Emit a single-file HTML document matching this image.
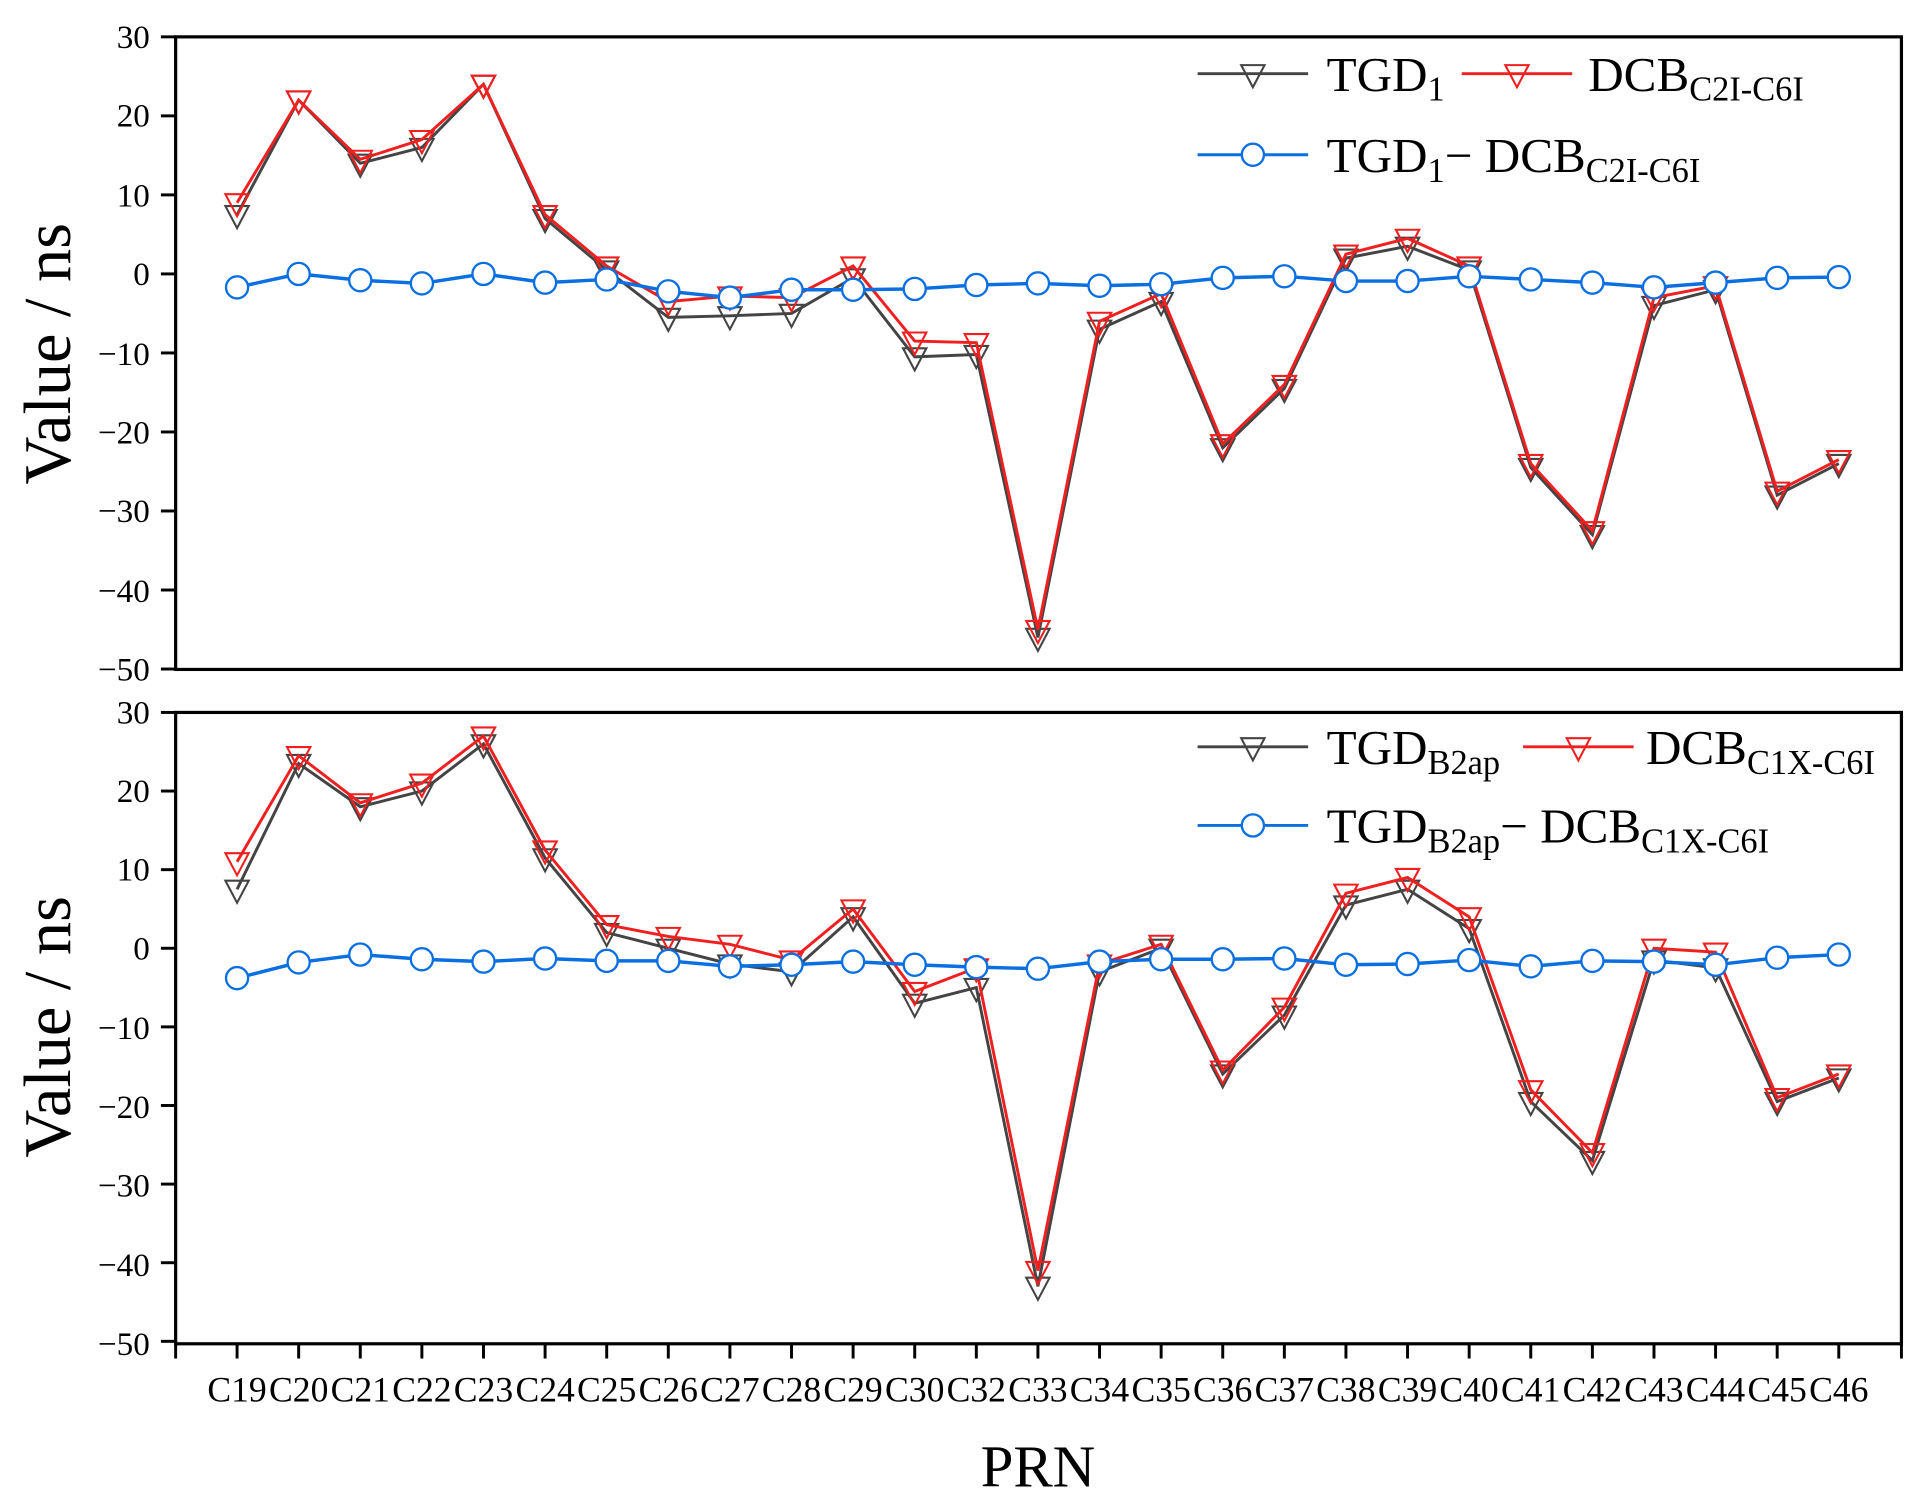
<!DOCTYPE html>
<html><head><meta charset="utf-8"><style>
html,body{margin:0;padding:0;background:#fff}
svg{display:block}
text{font-family:"Liberation Serif",serif;fill:#000}
</style></head><body>
<svg id="s" width="1926" height="1509" viewBox="0 0 1568 1228.5" xmlns="http://www.w3.org/2000/svg">
<rect width="1568" height="1228.5" fill="#fff"/>
<g id="plots"></g>
<rect x="143" y="30" width="1405" height="515" fill="none" stroke="#000" stroke-width="2.6"/>
<rect x="143" y="580" width="1405" height="514" fill="none" stroke="#000" stroke-width="2.6"/>
<g id="ticks" stroke="#000" stroke-width="2.4"></g>
<g font-size="27" text-anchor="end">
<text x="122" y="39">30</text><text x="122" y="103">20</text><text x="122" y="168">10</text><text x="122" y="232">0</text>
<text x="122" y="297">−10</text><text x="122" y="361">−20</text><text x="122" y="425">−30</text><text x="122" y="490">−40</text><text x="122" y="554">−50</text>
<text x="122" y="589">30</text><text x="122" y="653">20</text><text x="122" y="717">10</text><text x="122" y="781">0</text>
<text x="122" y="846">−10</text><text x="122" y="910">−20</text><text x="122" y="974">−30</text><text x="122" y="1039">−40</text><text x="122" y="1103">−50</text>
</g>
<g font-size="54" text-anchor="middle">
<text transform="translate(57,288) rotate(-90)">Value  /  ns</text>
<text transform="translate(57,836) rotate(-90)">Value  /  ns</text>
</g>
<text x="845" y="1210" font-size="48" text-anchor="middle">PRN</text>
<g font-size="29" text-anchor="middle">
<text x="193" y="1141">C19</text><text x="243.2" y="1141">C20</text><text x="293.3" y="1141">C21</text><text x="343.5" y="1141">C22</text><text x="393.6" y="1141">C23</text><text x="443.8" y="1141">C24</text><text x="493.9" y="1141">C25</text><text x="544.1" y="1141">C26</text><text x="594.2" y="1141">C27</text><text x="644.4" y="1141">C28</text><text x="694.5" y="1141">C29</text><text x="744.7" y="1141">C30</text><text x="794.8" y="1141">C32</text><text x="845" y="1141">C33</text><text x="895.1" y="1141">C34</text><text x="945.3" y="1141">C35</text><text x="995.4" y="1141">C36</text><text x="1045.6" y="1141">C37</text><text x="1095.7" y="1141">C38</text><text x="1145.9" y="1141">C39</text><text x="1196" y="1141">C40</text><text x="1246.2" y="1141">C41</text><text x="1296.3" y="1141">C42</text><text x="1346.5" y="1141">C43</text><text x="1396.6" y="1141">C44</text><text x="1446.8" y="1141">C45</text><text x="1497" y="1141">C46</text>
</g>
<g font-size="40">
<text x="1080" y="74">TGD<tspan font-size="28" dy="8">1</tspan></text>
<text x="1293" y="74">DCB<tspan font-size="28" dy="8">C2I-C6I</tspan></text>
<text x="1080" y="140">TGD<tspan font-size="28" dy="8">1</tspan><tspan dy="-8">− DCB</tspan><tspan font-size="28" dy="8">C2I-C6I</tspan></text>
<text x="1080" y="622">TGD<tspan font-size="28" dy="8">B2ap</tspan></text>
<text x="1340" y="622">DCB<tspan font-size="28" dy="8">C1X-C6I</tspan></text>
<text x="1080" y="686">TGD<tspan font-size="28" dy="8">B2ap</tspan><tspan dy="-8">− DCB</tspan><tspan font-size="28" dy="8">C1X-C6I</tspan></text>
</g>
<g id="leg"></g>
</svg>
<script>
var NS="http://www.w3.org/2000/svg";
function el(p,n,a){var e=document.createElementNS(NS,n);for(var k in a)e.setAttribute(k,a[k]);p.appendChild(e);return e;}
var X=[];for(var i=0;i<27;i++)X.push(193+i*(1497-193)/26);
var t=document.getElementById('ticks');
[1094].forEach(function(yb){
  for(var i=0;i<=28;i++){var x=i==0?143:(i==28?1548:X[i-1]);el(t,'line',{x1:x,y1:yb,x2:x,y2:yb+12});}
});
[[30,223],[580,772]].forEach(function(p){
  for(var v=30;v>=-50;v-=10){var y=p[1]-v*(p[1]-p[0])/30;el(t,'line',{x1:131,y1:y,x2:143,y2:y});}
});
var g=document.getElementById('plots');
function tri(par,x,y,c){el(par,'polygon',{points:(x-9.5)+','+(y-7)+' '+(x+9.5)+','+(y-7)+' '+x+','+(y+11),fill:'none',stroke:c,'stroke-width':1.7});}
function circ(par,x,y){el(par,'circle',{cx:x,cy:y,r:9,fill:'#fff',stroke:'#0a6fe0','stroke-width':1.9});}
function series(d,y0,s,c,m){
  var pts=d.map(function(v,i){return X[i]+','+(y0-v*s);}).join(' ');
  el(g,'polyline',{points:pts,fill:'none',stroke:c,'stroke-width':m=='c'?2.8:2.4});
  d.forEach(function(v,i){if(m=='c')circ(g,X[i],y0-v*s);else tri(g,X[i],y0-v*s,c);});
}
var s1=193/30,s2=192/30;
series([7.5,22,14,16,24,7,0.5,-5.5,-5.3,-5,-0.5,-10.5,-10.2,-46,-7,-3.5,-22,-14.5,2,3.5,0.5,-24.5,-33,-4,-2,-28,-24],223,s1,'#444','t');
series([9,22,14.5,17,24,7.5,1,-3.5,-2.8,-3,1,-8.5,-8.7,-45,-6,-2.5,-21.5,-14,2.5,4.5,1,-24,-32.5,-3,-1.5,-27.5,-23.5],223,s1,'#f02020','t');
series([-1.7,0,-0.8,-1.2,0,-1.1,-0.7,-2.2,-3,-2,-2,-1.9,-1.4,-1.2,-1.5,-1.3,-0.5,-0.3,-0.9,-0.9,-0.3,-0.7,-1.1,-1.7,-1.1,-0.5,-0.4],223,s1,'#0a6fe0','c');
series([7.5,23.5,18,20,26,11.5,2,0,-2,-3,4,-7,-5,-43,-3,0,-16,-8.5,5.5,7.5,2.5,-19.5,-27,-1.5,-2.5,-19.5,-16.5],772,s2,'#444','t');
series([11,24.5,18.5,21,27,12.5,3,1.5,0.5,-1.5,5,-5.5,-2.5,-41,-2,0.5,-15.5,-7.5,7,9,4,-18,-26,0,-0.5,-19,-16],772,s2,'#f02020','t');
series([-3.8,-1.8,-0.8,-1.4,-1.7,-1.3,-1.6,-1.6,-2.3,-2.1,-1.7,-2.1,-2.4,-2.6,-1.7,-1.4,-1.4,-1.3,-2.1,-2,-1.5,-2.3,-1.6,-1.7,-2.1,-1.2,-0.8],772,s2,'#0a6fe0','c');
var L=document.getElementById('leg');
function lg(x1,x2,y,c,m){el(L,'line',{x1:x1,y1:y,x2:x2,y2:y,stroke:c,'stroke-width':2.4});if(m=='c')circ(L,(x1+x2)/2,y);else tri(L,(x1+x2)/2,y,c);}
lg(975,1065,60,'#444','t');lg(1190,1280,60,'#f02020','t');lg(975,1065,126,'#0a6fe0','c');
lg(975,1065,608,'#444','t');lg(1240,1330,608,'#f02020','t');lg(975,1065,672,'#0a6fe0','c');
</script>
</body></html>
